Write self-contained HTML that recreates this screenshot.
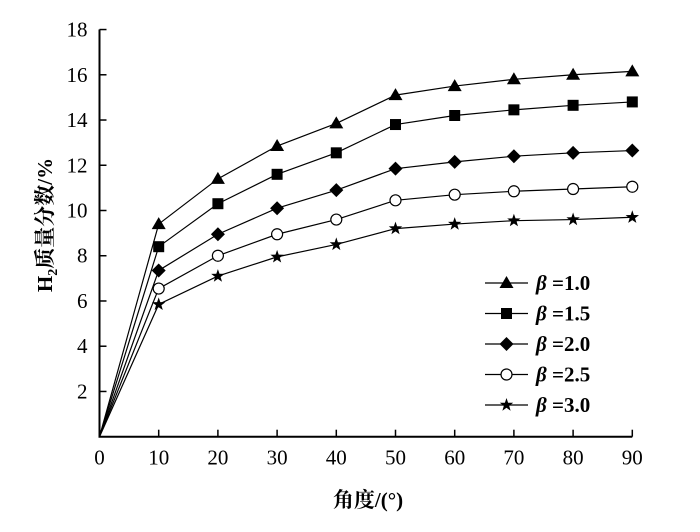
<!DOCTYPE html>
<html><head><meta charset="utf-8"><style>
body{margin:0;background:#fff;}
svg text{font-family:"Liberation Serif","Noto Serif CJK SC",serif;fill:#000;}
</style></head><body>
<svg id="chart" width="700" height="527" xmlns="http://www.w3.org/2000/svg">
<g id="axes"></g>
<g id="series"></g>
<g id="legend"></g>
<text transform="translate(52,225) rotate(-90)" text-anchor="middle" font-size="21" font-weight="bold">H<tspan font-size="14" dy="5">2</tspan><tspan dy="-5">质量分数/%</tspan></text>
<text x="368" y="507" text-anchor="middle" font-size="21" font-weight="bold">角度/(°)</text>
</svg>
<script>
const xCats=[0,10,20,30,40,50,60,70,80,90];
const yTicks=[2,4,6,8,10,12,14,16,18];
const seriesNames=["=1.0","=1.5","=2.0","=2.5","=3.0"];
const s10=[0,9.4,11.4,12.85,13.85,15.1,15.5,15.8,16.0,16.15];
const s15=[0,8.4,10.3,11.6,12.55,13.8,14.2,14.45,14.65,14.8];
const s20=[0,7.35,8.95,10.1,10.9,11.85,12.15,12.4,12.55,12.65];
const s25=[0,6.55,8.0,8.95,9.6,10.45,10.7,10.85,10.95,11.05];
const s30=[0,5.85,7.1,7.95,8.5,9.2,9.4,9.55,9.6,9.7];
const allSeries=[s10,s15,s20,s25,s30];
const markers=["triangle","square","diamond","circle","star"];
const NS="http://www.w3.org/2000/svg";
const X=v=>99.5+v*5.92;
const Y=v=>436.7-v*22.62;
function mk(t,a,p){const e=document.createElementNS(NS,t);for(const k in a)e.setAttribute(k,a[k]);p.appendChild(e);return e;}
const axes=document.getElementById('axes');
let l=mk('line',{x1:X(0),y1:Y(0),x2:X(0),y2:Y(18),stroke:'#000','stroke-width':2},axes);


l=mk('line',{x1:X(0)-1,y1:Y(0),x2:X(90),y2:Y(0),stroke:'#000','stroke-width':2},axes);


yTicks.forEach(v=>{mk('line',{x1:X(0),y1:Y(v),x2:X(0)+7,y2:Y(v),stroke:'#000','stroke-width':1.5},axes);
const t=mk('text',{x:X(0)-12,y:Y(v)+7,'text-anchor':'end','font-size':21},axes);t.textContent=v;

});
xCats.forEach(v=>{if(v>0)mk('line',{x1:X(v),y1:Y(0),x2:X(v),y2:Y(0)-7,stroke:'#000','stroke-width':1.5},axes);
const t=mk('text',{x:X(v),y:Y(0)+28,'text-anchor':'middle','font-size':21},axes);t.textContent=v;

});
function marker(type,x,y,p){
 let e;
 if(type==='triangle')e=mk('polygon',{points:`${x},${y-7} ${x-7},${y+5} ${x+7},${y+5}`,fill:'#000'},p);
 else if(type==='square')e=mk('rect',{x:x-5.5,y:y-5.5,width:11,height:11,fill:'#000'},p);
 else if(type==='diamond')e=mk('polygon',{points:`${x},${y-7} ${x+7},${y} ${x},${y+7} ${x-7},${y}`,fill:'#000'},p);
 else if(type==='circle')e=mk('circle',{cx:x,cy:y,r:5.5,fill:'#fff',stroke:'#000','stroke-width':1.2},p);
 else{let pts=[];for(let i=0;i<10;i++){const r=i%2?2.8:7,a=-Math.PI/2+i*Math.PI/5;pts.push((x+r*Math.cos(a)).toFixed(1)+','+(y+r*Math.sin(a)).toFixed(1));}
 e=mk('polygon',{points:pts.join(' '),fill:'#000'},p);}
 return e;}
const sg=document.getElementById('series');
allSeries.forEach((s,i)=>{
 const g=mk('g',{},sg);
 
 
 mk('polyline',{points:s.map((v,j)=>X(xCats[j])+','+Y(v)).join(' '),fill:'none',stroke:'#000','stroke-width':1.2},g);
 s.forEach((v,j)=>{if(j>0){const m=marker(markers[i],X(xCats[j]),Y(v),g);
 
 }});
});
const lg=document.getElementById('legend');
seriesNames.forEach((n,i)=>{
 const y=283+i*30.5;
 const g=mk('g',{},lg);
 
 
 mk('line',{x1:485,y1:y,x2:528,y2:y,stroke:'#000','stroke-width':1.2},g);
 marker(markers[i],506.5,y,g);
 const t=mk('text',{x:536,y:y+7,'font-size':21,'font-weight':'bold'},g);
 const b=mk('tspan',{'font-style':'italic'},t);b.textContent='β ';
 const r=mk('tspan',{},t);r.textContent=n;
});
</script>
</body></html>
